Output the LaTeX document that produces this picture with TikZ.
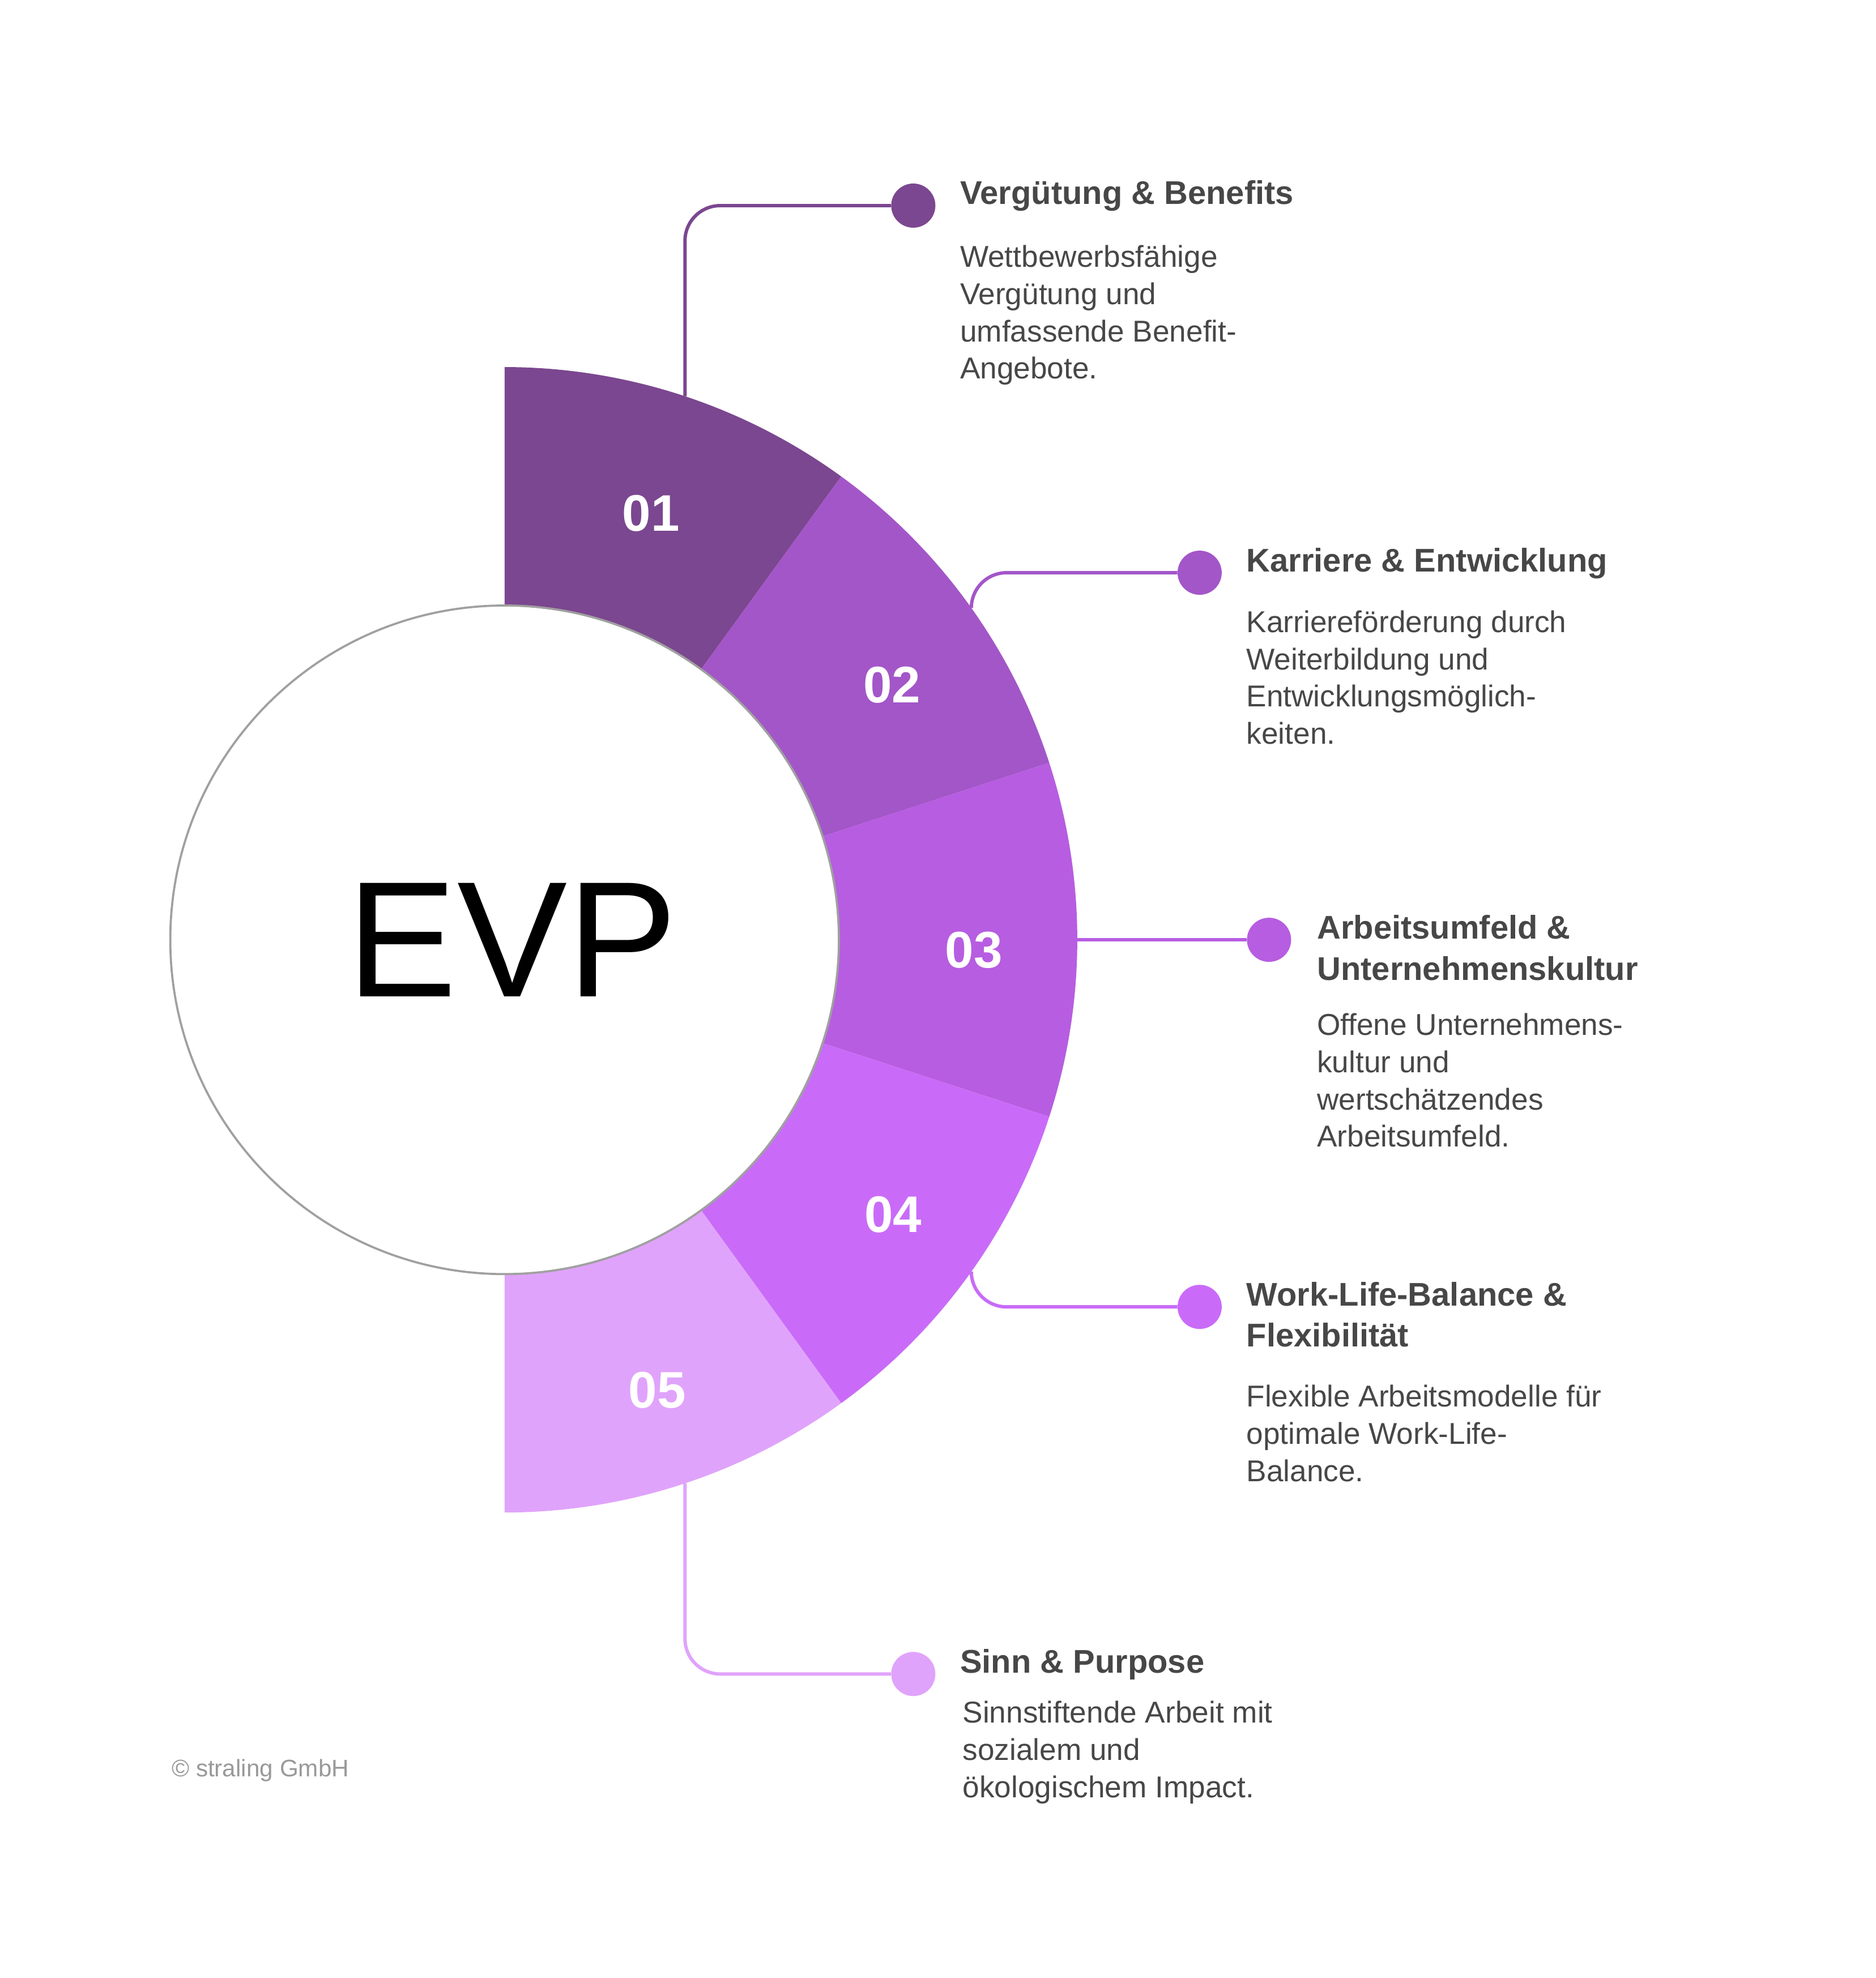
\documentclass[tikz,border=0pt]{standalone}
\usepackage{fontspec}
\setmainfont{Liberation Sans}
\definecolor{evpone}{HTML}{7B4790}
\definecolor{evptwo}{HTML}{A356C8}
\definecolor{evpthree}{HTML}{B75DE1}
\definecolor{evpfour}{HTML}{C96BF8}
\definecolor{evpfive}{HTML}{E0A3FB}
\definecolor{txtgray}{HTML}{474747}
\definecolor{ringgray}{HTML}{A0A0A0}
\definecolor{copygray}{HTML}{999999}
\begin{document}
\begin{tikzpicture}[
  x=0.5mm, y=0.5mm,
  hub/.style={circle, draw=ringgray, line width=2.4pt, fill=white, minimum size=265mm, inner sep=0pt, font=\fontsize{186}{186}\selectfont},
  dot/.style={circle, minimum size=17.5mm, inner sep=0pt},
  conn/.style={line width=3.8pt, rounded corners=14mm},
  num/.style={text=white, inner sep=0pt, font=\fontsize{58}{58}\selectfont\bfseries},
  ttl/.style={anchor=base west, align=left, inner sep=0pt, text=txtgray, font=\fontsize{37}{46.4}\selectfont\bfseries},
  desc/.style={anchor=base west, align=left, inner sep=0pt, text=txtgray, font=\fontsize{34}{42}\selectfont}
]
\useasboundingbox (-400,-823) rectangle (1087,745);

\fill[evpone]   (90:454)  arc[start angle=90,  end angle=54,  radius=454] -- (54:265)  arc[start angle=54,  end angle=90,  radius=265] -- cycle;
\fill[evptwo]   (54:454)  arc[start angle=54,  end angle=18,  radius=454] -- (18:265)  arc[start angle=18,  end angle=54,  radius=265] -- cycle;
\fill[evpthree] (18:454)  arc[start angle=18,  end angle=-18, radius=454] -- (-18:265) arc[start angle=-18, end angle=18,  radius=265] -- cycle;
\fill[evpfour]  (-18:454) arc[start angle=-18, end angle=-54, radius=454] -- (-54:265) arc[start angle=-54, end angle=-18, radius=265] -- cycle;
\fill[evpfive]  (-54:454) arc[start angle=-54, end angle=-90, radius=454] -- (-90:265) arc[start angle=-90, end angle=-54, radius=265] -- cycle;

\node[hub] (evp) at (0,0) {\hspace*{6mm}EVP};

\node[num] (n1) at (116,338)  {01};
\node[num] (n2) at (307,202)  {02};
\node[num] (n3) at (372,-8)   {03};
\node[num] (n4) at (308,-218) {04};
\node[num] (n5) at (121,-357) {05};

\coordinate (r1) at (143,430.9);
\coordinate (r2) at (370,263.1);
\coordinate (r3) at (454,0);
\coordinate (r4) at (370,-263.1);
\coordinate (r5) at (143,-430.9);

\node[dot, fill=evpone]   (d1) at (324,582)  {};
\node[dot, fill=evptwo]   (d2) at (551,291)  {};
\node[dot, fill=evpthree] (d3) at (606,0)    {};
\node[dot, fill=evpfour]  (d4) at (551,-291) {};
\node[dot, fill=evpfive]  (d5) at (324,-582) {};

\draw[conn, evpone]   (r1) |- (d1);
\draw[conn, evptwo]   (r2) |- (d2);
\draw[conn, evpthree] (r3) -- (d3);
\draw[conn, evpfour]  (r4) |- (d4);
\draw[conn, evpfive]  (r5) |- (d5);

\node[ttl]  (t1) at (361,583)    {Vergütung \& Benefits};
\node[desc] (b1) at (361,444.7)  {Wettbewerbsfähige\\Vergütung und\\umfassende Benefit-\\Angebote.};
\node[ttl]  (t2) at (588,291.5)  {Karriere \& Entwicklung};
\node[desc] (b2) at (588,155.1)  {Karriereförderung durch\\Weiterbildung und\\Entwicklungsmöglich-\\keiten.};
\node[ttl]  (t3) at (644,-32)    {Arbeitsumfeld \&\\Unternehmenskultur};
\node[desc] (b3) at (644,-164.2) {Offene Unternehmens-\\kultur und\\wertschätzendes\\Arbeitsumfeld.};
\node[ttl]  (t4) at (588,-322.7) {Work-Life-Balance \&\\Flexibilität};
\node[desc] (b4) at (588,-429.3) {Flexible Arbeitsmodelle für\\optimale Work-Life-\\Balance.};
\node[ttl]  (t5) at (361,-581.3) {Sinn \& Purpose};
\node[desc] (b5) at (363,-679.8) {Sinnstiftende Arbeit mit\\sozialem und\\ökologischem Impact.};

\node[anchor=base west, inner sep=0pt, text=copygray, font=\fontsize{27}{27}\selectfont] (copy) at (-264,-663.4) {© straling GmbH};
\end{tikzpicture}
\end{document}
